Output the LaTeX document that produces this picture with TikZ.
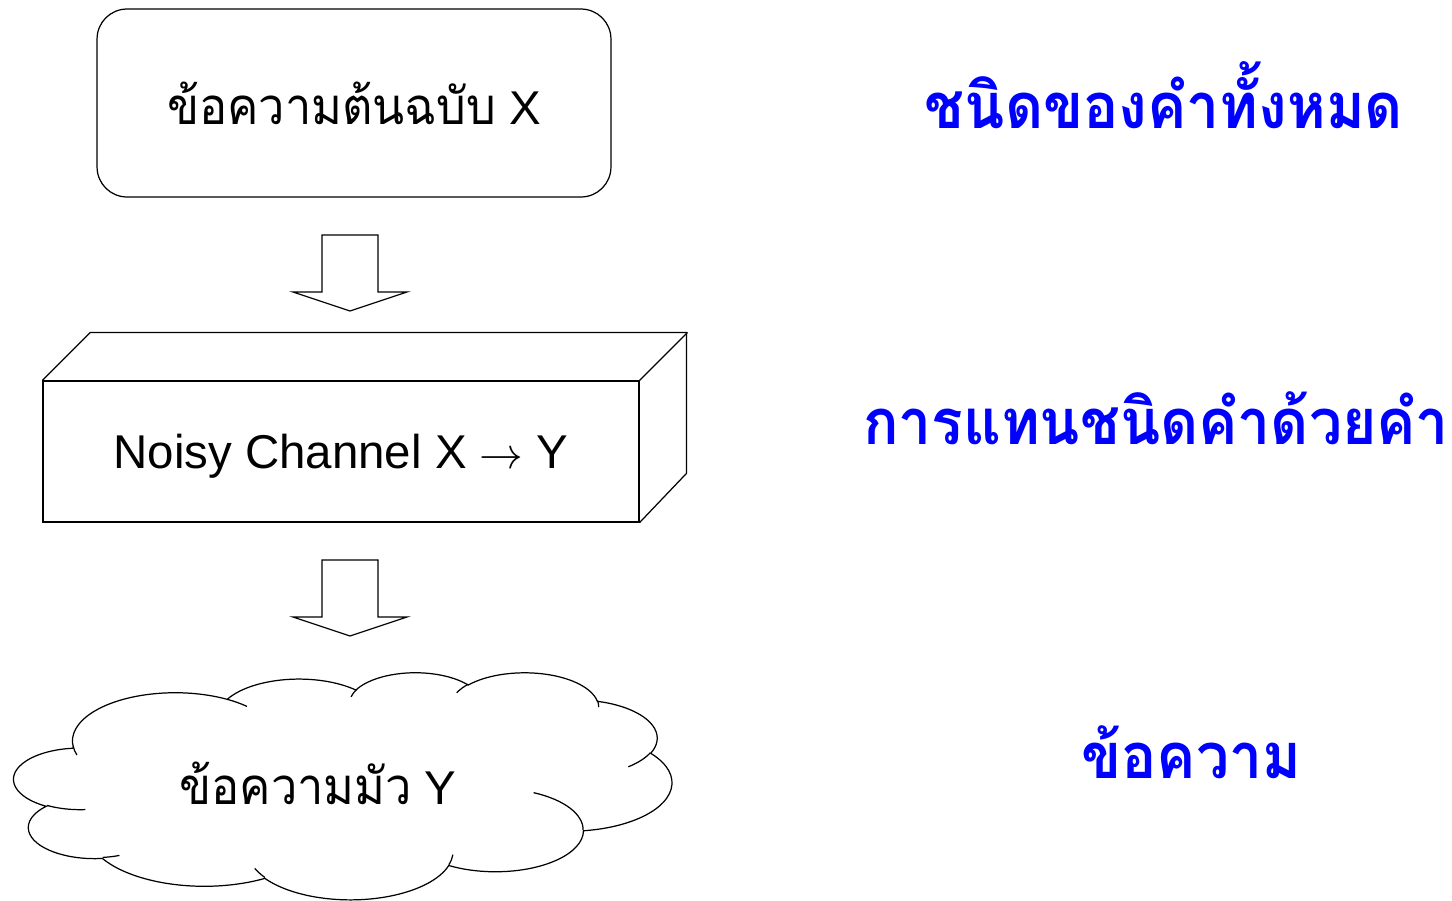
\documentclass[tikz,border=0pt]{standalone}
\usepackage{fontspec}
\setmainfont{Liberation Sans}
\newfontfamily\thaifont[Script=Thai]{Loma}
\usetikzlibrary{calc}

% one lobe of the cloud; angles are given as seen, turned into ellipse parameters here
\newcommand\cloudarc[4]{%
  \pgfextra{%
    \pgfmathsetmacro\cloudsa{atan2((#1)*sin(#3),(#2)*cos(#3))}%
    \pgfmathsetmacro\cloudea{atan2((#1)*sin((#3)+(#4)),(#2)*cos((#3)+(#4)))}%
    \pgfmathsetmacro\cloudda{mod((\cloudea)-(\cloudsa)+720,360)}%
  }
  arc[start angle=\cloudsa, delta angle=\cloudda, x radius=#1, y radius=#2]}
% narrower Thai text
\newcommand\thaitext[1]{\scalebox{0.92}[1]{\fontsize{29}{34}\selectfont\thaifont #1}}

\begin{document}
\begin{tikzpicture}[x=0.02cm,y=-0.02cm,line width=0.7pt,
    msg box/.style={draw,rounded corners=0.6cm,minimum width=10.28cm,minimum height=3.76cm,inner sep=0pt},
    front face/.style={draw,minimum width=11.92cm,minimum height=2.82cm,inner sep=0pt,text depth=0pt},
    block arrow/.style={draw,fill=white,line join=miter},
    msg text/.style={font=\fontsize{27}{32}\selectfont},
    side label/.style={blue,font=\fontsize{36}{42}\selectfont\thaifont\bfseries}]
  \useasboundingbox (0,0) rectangle (1452,900);

  % source message
  \node[msg box,msg text] (orig) at (354,103) {\thaitext{ข้อความต้นฉบับ} X};

  % channel drawn as a box
  \node[front face,msg text] (channel) at (341,451.5) {Noisy Channel X $\rightarrow$ Y};
  \draw (channel.north west) -- ++(48,-48) -- ++(596,0) -- ++(0,141) -- (channel.south east);
  \draw (channel.north east) -- ++(48,-48);

  \coordinate (arrow 1) at (350,235);
  \coordinate (arrow 2) at (350,560);
  \draw[block arrow] (arrow 1) ++(-28,0) -- ++(0,57) -- ++(-29,0) -- ++(57,19) -- ++(57,-19) -- ++(-29,0) -- ++(0,-57) -- cycle;
  \draw[block arrow] (arrow 2) ++(-28,0) -- ++(0,57) -- ++(-29,0) -- ++(57,19) -- ++(57,-19) -- ++(-29,0) -- ++(0,-57) -- cycle;

  % cloud for the received message
  \begin{scope}[shift={(14,672)},x=1cm,y=1cm,xscale=0.030463,yscale=-0.010509]
    \draw[fill=white] (39.00,143.70)
      \cloudarc{67.53}{91.90}{-190.4875}{123.7805}
      \cloudarc{53.33}{72.67}{-144.1024}{89.9452}
      \cloudarc{43.65}{59.45}{-145.8079}{99.7230}
      \cloudarc{48.57}{65.95}{-130.9861}{117.2417}
      \cloudarc{53.33}{72.73}{-78.7089}{109.0269}
      \cloudarc{67.75}{92.20}{-46.2673}{130.2690}
      \cloudarc{57.85}{78.67}{0.6250}{114.0333}
      \cloudarc{67.52}{92.15}{22.4516}{115.1726}
      \cloudarc{77.20}{105.43}{66.2426}{75.7110}
      \cloudarc{43.60}{59.18}{-274.9421}{146.7356}
      \cloudarc{43.45}{59.45}{-246.8285}{152.5189}
      -- cycle;
    % the short inner strokes
    \draw (46.93,261.77) \cloudarc{43.45}{59.45}{86.7420}{26.4295}
      (69.28,348.99) \cloudarc{43.60}{59.18}{73.6105}{11.4475}
      (164.78,390.90) \cloudarc{67.52}{92.15}{137.6242}{14.0811}
      (288.27,347.51) \cloudarc{67.52}{92.15}{6.4533}{15.9984}
      (341.29,229.54) \cloudarc{57.85}{78.67}{-70.2924}{70.9174}
      (417.98,153.54) \cloudarc{53.33}{72.73}{30.3180}{27.7515}
      (383.24,54.26) \cloudarc{48.57}{65.95}{-13.7443}{14.8512}
      (290.78,39.52) \cloudarc{48.57}{65.95}{-149.1815}{18.1933}
      (221.41,47.20) \cloudarc{43.65}{59.45}{-163.4943}{17.6834}
      (140.00,51.92) \cloudarc{67.53}{91.90}{-66.7070}{12.3194}
      (41.27,157.89) \cloudarc{67.53}{91.90}{158.3396}{14.8491};
  \end{scope}
  \node[msg text] (noisy) at (318,783) {\thaitext{ข้อความมัว} Y};

  % labels on the right
  \node[side label] (all words) at (1164,95) {\scalebox{0.93}[1]{ชนิดของคำทั้งหมด}};
  \node[side label] (replace) at (1156,418) {\scalebox{0.93}[1]{การแทนชนิดคำด้วยคำ}};
  \node[side label] (message) at (1191,752) {\scalebox{0.93}[1]{ข้อความ}};
\end{tikzpicture}
\end{document}
